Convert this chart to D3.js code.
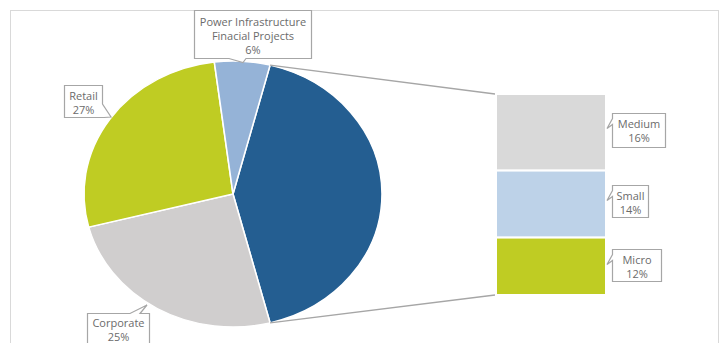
<!DOCTYPE html>
<html><head><meta charset="utf-8">
<script src="https://cdn.jsdelivr.net/npm/d3@7"></script>
<style>html,body{margin:0;padding:0;background:#fff;}svg{display:block;}</style>
</head><body>
<script>
// ---- data ----
const pieCategories = ["Other", "Corporate", "Retail", "Power Infrastructure Finacial Projects"];
const pieValues = [42, 25, 27, 6];
const barCategories = ["Medium", "Small", "Micro"];
const barValues = [16, 14, 12];

// ---- layout ----
const W = 725, H = 343;
const svg = d3.select("body").append("svg").attr("width", W).attr("height", H);
svg.append("rect").attr("x", 10.5).attr("y", 10.5).attr("width", 708).attr("height", 345)
  .attr("fill", "#fff").attr("stroke", "#D9D9D9").attr("stroke-width", 1);

const cx = 233, cy = 194, ry = 133, rx = 149, sx = rx / ry;
const pieColors = ["#245E91", "#D0CECE", "#BFCC23", "#95B3D7"];
const barColors = ["#D9D9D9", "#BDD2E8", "#BFCC23"];

const otherShare = pieValues[0] / d3.sum(pieValues);
const start = Math.PI / 2 - otherShare * Math.PI;
const pie = d3.pie().sort(null).startAngle(start).endAngle(start + 2 * Math.PI);
const arcs = pie(pieValues);
const arc = d3.arc().innerRadius(0).outerRadius(ry);

const pg = svg.append("g").attr("transform", `translate(${cx},${cy}) scale(${sx},1)`);
pg.selectAll("path").data(arcs).join("path")
  .attr("d", arc).attr("fill", (d, i) => pieColors[i])
  .attr("stroke", "#fff").attr("stroke-width", 1.4);

// ---- bar (stacked) ----
const barX = 496, barW = 110, barTop = 94, barBottom = 295;
const y = d3.scaleLinear().domain([0, d3.sum(barValues)]).range([barTop, barBottom]);
let acc = 0;
const stacks = barValues.map(v => { const s = { y0: acc, y1: acc + v }; acc += v; return s; });
svg.append("g").selectAll("rect").data(stacks).join("rect")
  .attr("x", barX).attr("width", barW)
  .attr("y", d => y(d.y0)).attr("height", d => y(d.y1) - y(d.y0))
  .attr("fill", (d, i) => barColors[i]).attr("stroke", "#fff").attr("stroke-width", 2);

// ---- connector lines ----
const a0 = arcs[0].startAngle, a1 = arcs[0].endAngle;
const pt = a => [cx + rx * Math.sin(a), cy - ry * Math.cos(a)];
const p0 = pt(a0), p1 = pt(a1);
svg.append("line").attr("x1", p0[0]).attr("y1", p0[1]).attr("x2", barX - 1).attr("y2", y(0))
  .attr("stroke", "#A6A6A6").attr("stroke-width", 1.3);
svg.append("line").attr("x1", p1[0]).attr("y1", p1[1]).attr("x2", barX - 1).attr("y2", y(d3.sum(barValues)))
  .attr("stroke", "#A6A6A6").attr("stroke-width", 1.3);

// ---- callouts ----
function callout(box, ptr, lines, lineY) {
  const g = svg.append("g");
  const [x0, y0, x1, y1] = box;
  let path;
  if (ptr.side === "left") {
    path = `M${x0},${y0}H${x1}V${y1}H${x0}V${ptr.b}L${ptr.tx},${ptr.ty}L${x0},${ptr.a}Z`;
  } else if (ptr.side === "bottom") {
    path = `M${x0},${y0}H${x1}V${y1}H${ptr.b}L${ptr.tx},${ptr.ty}L${ptr.a},${y1}H${x0}Z`;
  } else if (ptr.side === "top") {
    path = `M${x0},${y0}H${ptr.a}L${ptr.tx},${ptr.ty}L${ptr.b},${y0}H${x1}V${y1}H${x0}Z`;
  } else if (ptr.side === "rightbottom") {
    path = `M${x0},${y0}H${x1}V${ptr.a}L${ptr.tx},${ptr.ty}L${ptr.b},${y1}H${x0}Z`;
  }
  g.append("path").attr("d", path).attr("fill", "#fff").attr("stroke", "#A6A6A6").attr("stroke-width", 1.2);
  const t = g.append("text").attr("text-anchor", "middle")
    .attr("font-family", "'Open Sans', sans-serif").attr("font-size", 11).attr("fill", "#6B6B6B");
  lines.forEach((s, i) => t.append("tspan").attr("x", (x0 + x1) / 2).attr("y", lineY + i * 14).text(s));
}
const pct = v => Math.round(v / d3.sum(pieValues) * 100) + "%";

callout([194.5, 10.5, 311.5, 58.5], { side: "bottom", a: 229, tx: 243, ty: 62.5, b: 246 },
  ["Power Infrastructure", "Finacial Projects", pct(pieValues[3])], 26);
callout([64.5, 85.5, 102.5, 117.5], { side: "rightbottom", a: 104, tx: 111, ty: 117, b: 104 },
  [pieCategories[2], pct(pieValues[2])], 100);
callout([87.5, 313.5, 149.5, 360], { side: "top", a: 130, tx: 147, ty: 305, b: 140 },
  [pieCategories[1], pct(pieValues[1])], 327);

const barBoxes = [[612.5, 113.5, 665.5, 147.5], [612.5, 185.5, 648.5, 217.5], [612.5, 249.5, 661.5, 281.5]];
barBoxes.forEach((b, i) => {
  const mid = b[1] + 10;
  callout(b, { side: "left", a: mid - 5, tx: 607, ty: mid + 5, b: mid + 1 },
    [barCategories[i], pct(barValues[i])], b[1] + 14);
});
</script>
</body></html>
